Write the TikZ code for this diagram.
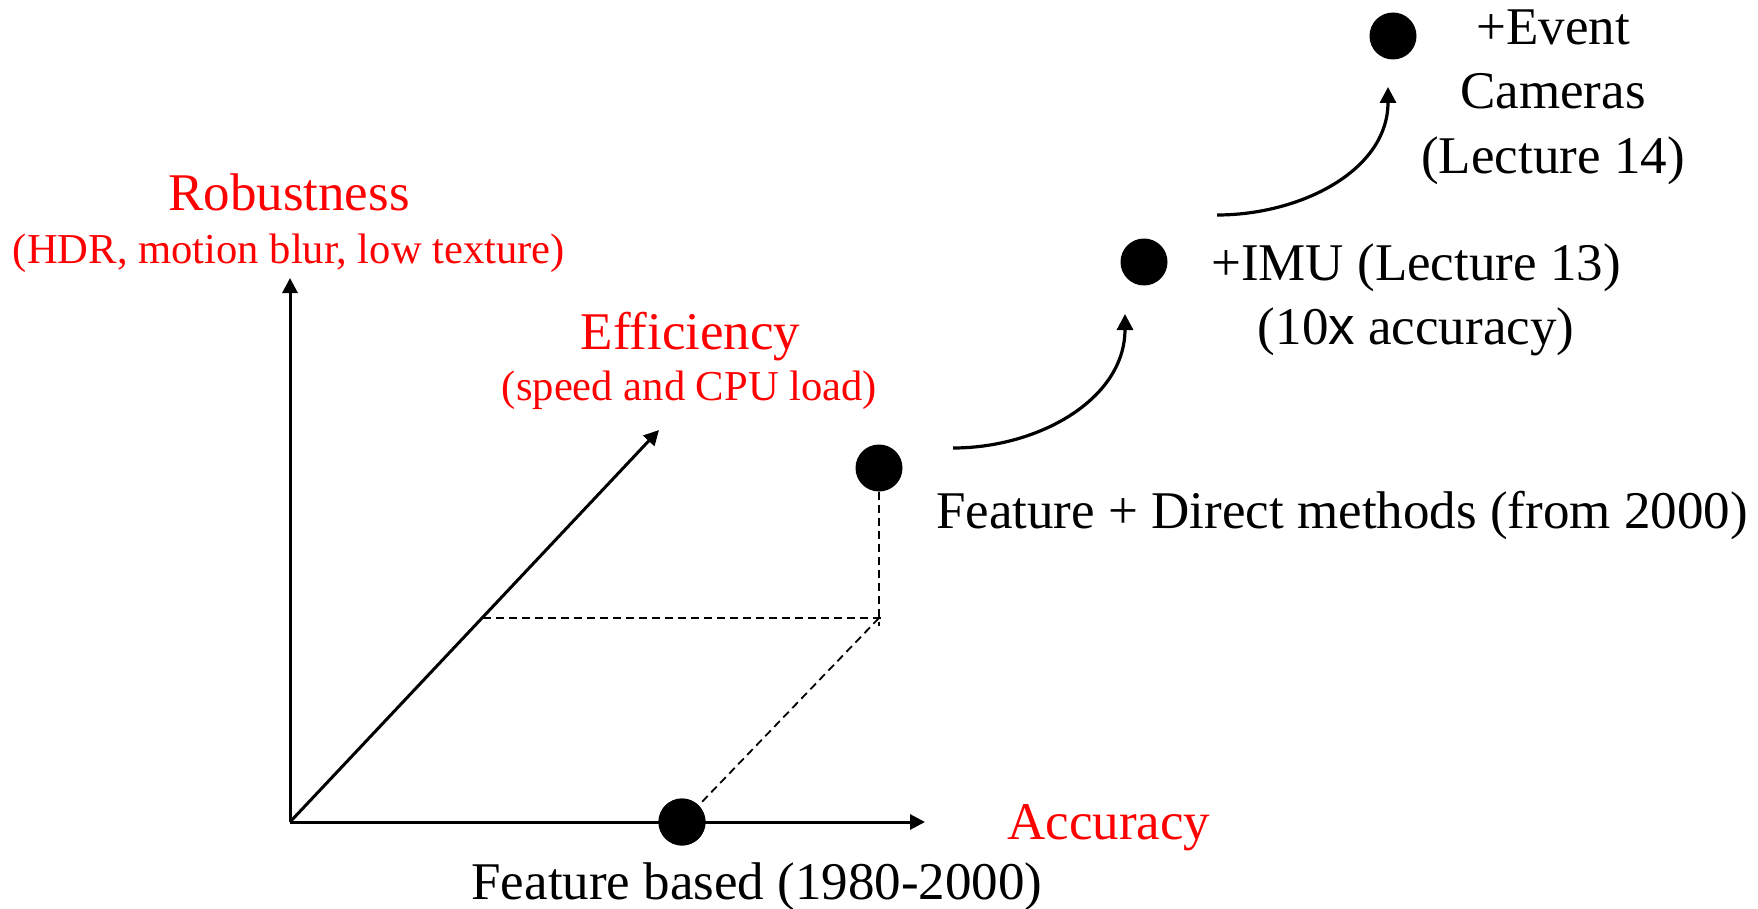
\documentclass[tikz,border=0pt]{standalone}
\usepackage{fontspec}
\setmainfont{Liberation Serif}
\newfontfamily\sansx{Liberation Sans}
\usetikzlibrary{arrows.meta}
\tikzset{
  axis/.style={line width=3pt,-{Triangle[length=15pt,width=15pt]}},
  guide/.style={line width=1.8pt,dash pattern=on 8pt off 5pt},
  curvearrow/.style={line width=3.2pt,-{Triangle[length=16pt,width=16pt]}},
  dot/.style={circle,fill=black,inner sep=0pt,minimum size=47pt},
  redmain/.style={text=red,font=\fontsize{53}{64}\selectfont,inner sep=0pt,anchor=base},
  redsub/.style={text=red,font=\fontsize{42.6}{51}\selectfont,inner sep=0pt,anchor=base},
  blacklab/.style={text=black,font=\fontsize{53}{64}\selectfont,inner sep=0pt,anchor=base},
}
\begin{document}
\begin{tikzpicture}[x=1pt,y=-1pt]
\useasboundingbox (0,0) rectangle (1758,909);
% axes
\coordinate (O) at (290,822);
\coordinate (rtip) at (290,278);
\coordinate (atip) at (925,822);
\coordinate (etip) at (659,430);
\coordinate (corner) at (879,618);
\coordinate (proj) at (483,618);
\coordinate (vend) at (879,626);
% dots
\node[dot] (fb) at (682,822) {};
\node[dot] (fd) at (879,468) {};
\node[dot] (imu) at (1144,262) {};
\node[dot] (ev) at (1393,36) {};
% dashed guides
\draw[guide] (fd.south) -- (vend);
\draw[guide] (proj) -- (882,618);
\draw[guide] (corner) -- (fb.north east);
% axes drawn
\draw[axis] (O) -- (rtip);
\draw[axis] (O) -- (atip);
\draw[axis] (O) -- (etip);
\node[dot] at (fb) {};
% curved arrows
\coordinate (c1s) at (953,448);
\coordinate (c1e) at (1125,314);
\coordinate (c2s) at (1217,215);
\coordinate (c2e) at (1388,87);
\draw[curvearrow] (c1s) to[out=0,in=-90] (c1e);
\draw[curvearrow] (c2s) to[out=0,in=-90] (c2e);
% labels
\node[redmain] (rob) at (289,211) {Robustness};
\node[redsub] (robsub) at (289,263.5) {(HDR, motion blur, low texture)};
\node[redmain] (eff) at (690.5,349) {Efficiency};
\node[redsub] (effsub) at (689.5,400) {(speed and CPU load)};
\node[redmain,anchor=base west] (acc) at (1007,839) {Accuracy};
\node[blacklab] (fbl) at (757,899) {Feature based (1980-2000)};
\node[blacklab,anchor=base west] (fdl) at (936,528) {Feature + Direct methods (from 2000)};
\node[blacklab,anchor=base west] (imu1) at (1211,280) {+IMU (Lecture 13)};
\node[blacklab] (imu2) at (1416,344) {(10{\sansx x} accuracy)};
\node[blacklab] (ev1) at (1553,45) {+Event};
\node[blacklab] (ev2) at (1553,109) {Cameras};
\node[blacklab] (ev3) at (1553,174) {(Lecture 14)};
\end{tikzpicture}
\end{document}
